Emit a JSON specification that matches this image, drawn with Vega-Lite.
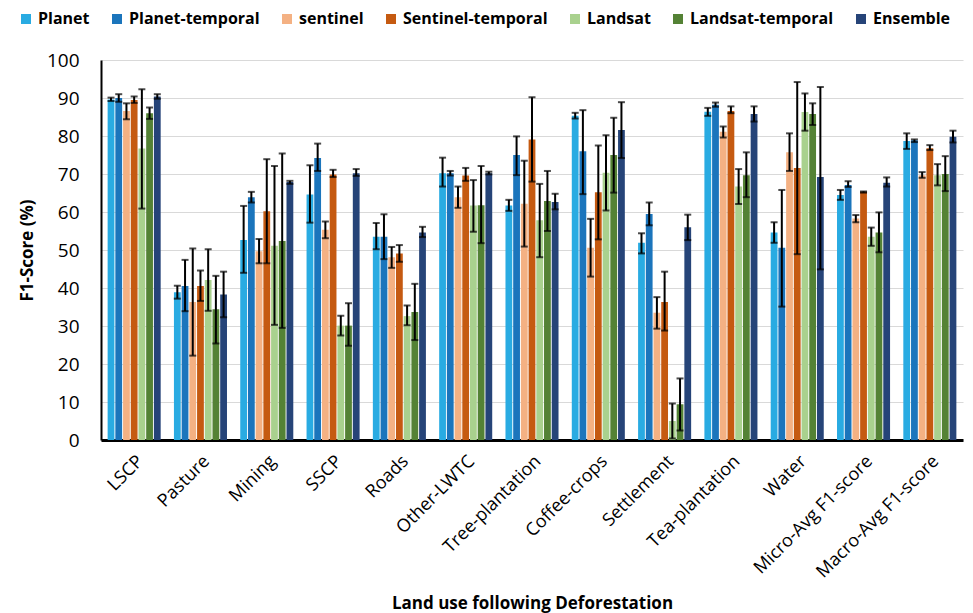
{
  "$schema": "https://vega.github.io/schema/vega-lite/v6.json",
  "width": 862,
  "height": 380,
  "autosize": {"type": "none"},
  "padding": {"left": 101, "top": 60, "right": 10, "bottom": 173},
  "background": "white",
  "config": {
    "font": "Open Sans",
    "view": {"stroke": null},
    "axisY": {
      "values": [0,10,20,30,40,50,60,70,80,90,100], "labelOverlap": false,
      "labelFontSize": 19, "labelColor": "#000", "ticks": false, "labelPadding": 22,
      "domainColor": "#000", "domainWidth": 2,
      "gridColor": "#D9D9D9", "gridWidth": 1,
      "titleFontSize": 17, "titleFontWeight": "bold", "titleColor": "#000", "titlePadding": 10
    }
  },
  "data": {"values": [
    {"c":"LSCP","m":"Planet","v":89.6,"lo":89.2,"hi":90.1},
    {"c":"LSCP","m":"Planet-temporal","v":90.0,"lo":89.0,"hi":91.0},
    {"c":"LSCP","m":"sentinel","v":86.6,"lo":84.4,"hi":88.6},
    {"c":"LSCP","m":"Sentinel-temporal","v":89.5,"lo":88.7,"hi":90.4},
    {"c":"LSCP","m":"Landsat","v":76.7,"lo":60.9,"hi":92.3},
    {"c":"LSCP","m":"Landsat-temporal","v":86.0,"lo":84.5,"hi":87.5},
    {"c":"LSCP","m":"Ensemble","v":90.4,"lo":89.8,"hi":91.0},
    {"c":"Pasture","m":"Planet","v":38.9,"lo":37.2,"hi":40.6},
    {"c":"Pasture","m":"Planet-temporal","v":40.5,"lo":33.9,"hi":47.4},
    {"c":"Pasture","m":"sentinel","v":36.3,"lo":22.2,"hi":50.4},
    {"c":"Pasture","m":"Sentinel-temporal","v":40.5,"lo":36.6,"hi":44.6},
    {"c":"Pasture","m":"Landsat","v":42.1,"lo":34.0,"hi":50.2},
    {"c":"Pasture","m":"Landsat-temporal","v":34.4,"lo":25.4,"hi":43.2},
    {"c":"Pasture","m":"Ensemble","v":38.3,"lo":32.3,"hi":44.3},
    {"c":"Mining","m":"Planet","v":52.6,"lo":44.0,"hi":61.6},
    {"c":"Mining","m":"Planet-temporal","v":63.9,"lo":62.5,"hi":65.3},
    {"c":"Mining","m":"sentinel","v":49.7,"lo":46.5,"hi":52.9},
    {"c":"Mining","m":"Sentinel-temporal","v":60.2,"lo":46.5,"hi":73.9},
    {"c":"Mining","m":"Landsat","v":51.1,"lo":30.3,"hi":72.1},
    {"c":"Mining","m":"Landsat-temporal","v":52.4,"lo":29.5,"hi":75.4},
    {"c":"Mining","m":"Ensemble","v":67.9,"lo":67.4,"hi":68.2},
    {"c":"SSCP","m":"Planet","v":64.6,"lo":57.2,"hi":72.3},
    {"c":"SSCP","m":"Planet-temporal","v":74.2,"lo":70.8,"hi":78.0},
    {"c":"SSCP","m":"sentinel","v":55.3,"lo":53.1,"hi":57.5},
    {"c":"SSCP","m":"Sentinel-temporal","v":69.9,"lo":69.2,"hi":71.1},
    {"c":"SSCP","m":"Landsat","v":30.1,"lo":27.5,"hi":32.7},
    {"c":"SSCP","m":"Landsat-temporal","v":30.1,"lo":24.8,"hi":36.0},
    {"c":"SSCP","m":"Ensemble","v":70.2,"lo":69.5,"hi":71.3},
    {"c":"Roads","m":"Planet","v":53.5,"lo":50.2,"hi":57.1},
    {"c":"Roads","m":"Planet-temporal","v":53.5,"lo":47.6,"hi":59.4},
    {"c":"Roads","m":"sentinel","v":48.1,"lo":45.3,"hi":50.8},
    {"c":"Roads","m":"Sentinel-temporal","v":49.1,"lo":46.9,"hi":51.3},
    {"c":"Roads","m":"Landsat","v":32.6,"lo":30.2,"hi":35.4},
    {"c":"Roads","m":"Landsat-temporal","v":33.7,"lo":26.3,"hi":41.1},
    {"c":"Roads","m":"Ensemble","v":54.6,"lo":53.4,"hi":56.1},
    {"c":"Other-LWTC","m":"Planet","v":70.2,"lo":66.7,"hi":74.3},
    {"c":"Other-LWTC","m":"Planet-temporal","v":70.2,"lo":69.6,"hi":70.8},
    {"c":"Other-LWTC","m":"sentinel","v":63.9,"lo":61.1,"hi":66.7},
    {"c":"Other-LWTC","m":"Sentinel-temporal","v":69.6,"lo":68.2,"hi":71.6},
    {"c":"Other-LWTC","m":"Landsat","v":61.7,"lo":54.8,"hi":68.4},
    {"c":"Other-LWTC","m":"Landsat-temporal","v":61.8,"lo":51.8,"hi":72.1},
    {"c":"Other-LWTC","m":"Ensemble","v":70.2,"lo":69.9,"hi":70.6},
    {"c":"Tree-plantation","m":"Planet","v":61.7,"lo":60.3,"hi":63.2},
    {"c":"Tree-plantation","m":"Planet-temporal","v":75.0,"lo":69.7,"hi":79.9},
    {"c":"Tree-plantation","m":"sentinel","v":62.2,"lo":50.9,"hi":73.5},
    {"c":"Tree-plantation","m":"Sentinel-temporal","v":79.1,"lo":68.0,"hi":90.2},
    {"c":"Tree-plantation","m":"Landsat","v":57.8,"lo":48.1,"hi":67.4},
    {"c":"Tree-plantation","m":"Landsat-temporal","v":62.9,"lo":55.0,"hi":70.8},
    {"c":"Tree-plantation","m":"Ensemble","v":62.6,"lo":60.7,"hi":64.8},
    {"c":"Coffee-crops","m":"Planet","v":85.3,"lo":84.6,"hi":86.1},
    {"c":"Coffee-crops","m":"Planet-temporal","v":76.0,"lo":64.7,"hi":86.8},
    {"c":"Coffee-crops","m":"sentinel","v":50.6,"lo":43.0,"hi":58.2},
    {"c":"Coffee-crops","m":"Sentinel-temporal","v":65.2,"lo":52.8,"hi":77.5},
    {"c":"Coffee-crops","m":"Landsat","v":70.3,"lo":60.4,"hi":80.2},
    {"c":"Coffee-crops","m":"Landsat-temporal","v":75.0,"lo":65.1,"hi":84.8},
    {"c":"Coffee-crops","m":"Ensemble","v":81.6,"lo":74.2,"hi":88.9},
    {"c":"Settlement","m":"Planet","v":51.9,"lo":49.1,"hi":54.4},
    {"c":"Settlement","m":"Planet-temporal","v":59.5,"lo":56.5,"hi":62.5},
    {"c":"Settlement","m":"sentinel","v":33.5,"lo":29.3,"hi":37.6},
    {"c":"Settlement","m":"Sentinel-temporal","v":36.3,"lo":28.8,"hi":44.3},
    {"c":"Settlement","m":"Landsat","v":5.0,"lo":0.4,"hi":9.6},
    {"c":"Settlement","m":"Landsat-temporal","v":9.4,"lo":2.5,"hi":16.2},
    {"c":"Settlement","m":"Ensemble","v":56.0,"lo":52.6,"hi":59.3},
    {"c":"Tea-plantation","m":"Planet","v":86.4,"lo":85.3,"hi":87.4},
    {"c":"Tea-plantation","m":"Planet-temporal","v":88.2,"lo":87.7,"hi":88.8},
    {"c":"Tea-plantation","m":"sentinel","v":81.1,"lo":79.6,"hi":82.5},
    {"c":"Tea-plantation","m":"Sentinel-temporal","v":86.6,"lo":86.0,"hi":87.8},
    {"c":"Tea-plantation","m":"Landsat","v":66.7,"lo":62.1,"hi":71.3},
    {"c":"Tea-plantation","m":"Landsat-temporal","v":69.7,"lo":63.9,"hi":75.7},
    {"c":"Tea-plantation","m":"Ensemble","v":85.8,"lo":83.8,"hi":87.8},
    {"c":"Water","m":"Planet","v":54.6,"lo":51.9,"hi":57.3},
    {"c":"Water","m":"Planet-temporal","v":50.6,"lo":35.1,"hi":65.8},
    {"c":"Water","m":"sentinel","v":75.7,"lo":70.8,"hi":80.7},
    {"c":"Water","m":"Sentinel-temporal","v":71.6,"lo":48.9,"hi":94.2},
    {"c":"Water","m":"Landsat","v":86.3,"lo":81.4,"hi":91.2},
    {"c":"Water","m":"Landsat-temporal","v":85.8,"lo":82.9,"hi":88.6},
    {"c":"Water","m":"Ensemble","v":69.2,"lo":44.9,"hi":92.9},
    {"c":"Micro-Avg F1-score","m":"Planet","v":64.5,"lo":63.2,"hi":65.8},
    {"c":"Micro-Avg F1-score","m":"Planet-temporal","v":67.1,"lo":66.6,"hi":68.1},
    {"c":"Micro-Avg F1-score","m":"sentinel","v":58.3,"lo":57.3,"hi":59.2},
    {"c":"Micro-Avg F1-score","m":"Sentinel-temporal","v":65.3,"lo":65.1,"hi":65.4},
    {"c":"Micro-Avg F1-score","m":"Landsat","v":53.5,"lo":51.1,"hi":55.9},
    {"c":"Micro-Avg F1-score","m":"Landsat-temporal","v":54.6,"lo":49.4,"hi":59.9},
    {"c":"Micro-Avg F1-score","m":"Ensemble","v":67.7,"lo":66.7,"hi":69.1},
    {"c":"Macro-Avg F1-score","m":"Planet","v":78.7,"lo":76.6,"hi":80.7},
    {"c":"Macro-Avg F1-score","m":"Planet-temporal","v":78.9,"lo":78.4,"hi":79.1},
    {"c":"Macro-Avg F1-score","m":"sentinel","v":69.7,"lo":69.0,"hi":70.5},
    {"c":"Macro-Avg F1-score","m":"Sentinel-temporal","v":76.8,"lo":76.3,"hi":77.6},
    {"c":"Macro-Avg F1-score","m":"Landsat","v":69.7,"lo":67.0,"hi":72.6},
    {"c":"Macro-Avg F1-score","m":"Landsat-temporal","v":70.0,"lo":65.5,"hi":74.7},
    {"c":"Macro-Avg F1-score","m":"Ensemble","v":79.8,"lo":78.3,"hi":81.4}
  ]},
  "encoding": {
    "x": {
      "field": "c", "type": "nominal", "sort": null,
      "scale": {"paddingInner": 0.2, "paddingOuter": 0.1},
      "title": "Land use following Deforestation",
      "axis": {
        "labelAngle": -45, "labelFontSize": 18, "labelColor": "#000",
        "ticks": false, "labelPadding": 12,
        "domainColor": "#000", "domainWidth": 3,
        "titleFontSize": 17, "titleFontWeight": "bold", "titleColor": "#000", "titlePadding": 14
      }
    },
    "xOffset": {
      "field": "m", "type": "nominal", "sort": null,
      "scale": {"paddingInner": 0.12}
    }
  },
  "layer": [
    {
      "mark": {"type": "bar"},
      "encoding": {
        "y": {
          "field": "v", "type": "quantitative",
          "scale": {"domain": [0, 100], "nice": false},
          "title": "F1-Score (%)",
          "axis": {"values": [0,10,20,30,40,50,60,70,80,90,100], "labelOverlap": false}
        },
        "color": {
          "field": "m", "type": "nominal", "sort": null,
          "scale": {
            "domain": ["Planet","Planet-temporal","sentinel","Sentinel-temporal","Landsat","Landsat-temporal","Ensemble"],
            "range": ["#29ABE2","#1B75BC","#F4B183","#C55A11","#A9D18E","#548235","#264478"]
          },
          "legend": {
            "title": null, "orient": "none", "legendX": -83, "legendY": -49,
            "direction": "horizontal", "symbolType": "square", "symbolSize": 100,
            "symbolStrokeWidth": 0,
            "labelFontSize": 16, "labelFontWeight": "bold", "labelColor": "#000",
            "columnPadding": 19, "labelOffset": 4
          }
        }
      }
    },
    {
      "mark": {"type": "rule", "color": "#000", "strokeWidth": 2},
      "encoding": {
        "y": {"field": "lo", "type": "quantitative", "axis": {"values": [0,10,20,30,40,50,60,70,80,90,100], "labelOverlap": false}},
        "y2": {"field": "hi"}
      }
    },
    {
      "mark": {"type": "tick", "color": "#000", "thickness": 2, "size": 7},
      "encoding": {"y": {"field": "lo", "type": "quantitative", "axis": {"values": [0,10,20,30,40,50,60,70,80,90,100], "labelOverlap": false}}}
    },
    {
      "mark": {"type": "tick", "color": "#000", "thickness": 2, "size": 7},
      "encoding": {"y": {"field": "hi", "type": "quantitative", "axis": {"values": [0,10,20,30,40,50,60,70,80,90,100], "labelOverlap": false}}}
    }
  ]
}
